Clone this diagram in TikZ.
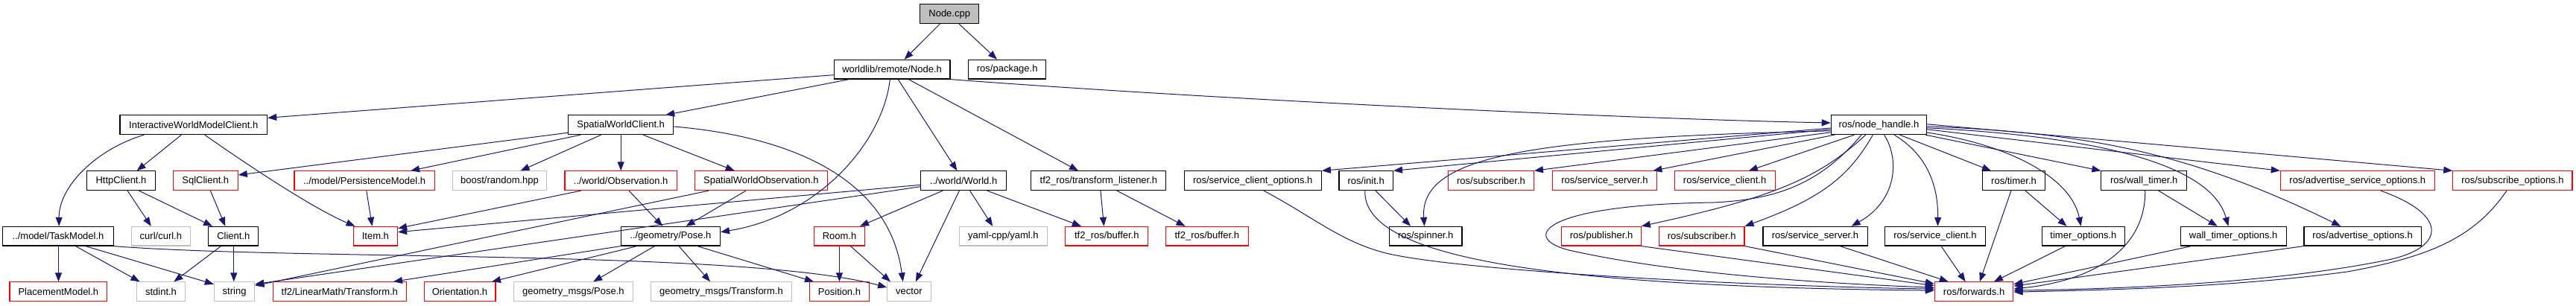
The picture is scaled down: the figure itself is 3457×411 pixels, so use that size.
\documentclass[tikz,border=0pt]{standalone}
\usepackage{fontspec}
\setmainfont{Liberation Sans}
\usetikzlibrary{arrows.meta,calc}
\definecolor{edgecol}{HTML}{191970}
\definecolor{redb}{HTML}{FF0000}
\definecolor{grayb}{HTML}{BFBFBF}
\begin{document}
\begin{tikzpicture}[x=1pt,y=-1pt,
  box/.style={rectangle, minimum height=25.7pt, inner sep=0pt, line width=1.1pt, font=\fontsize{13}{15}\selectfont},
  kbox/.style={box, draw=black},
  rbox/.style={box, draw=redb},
  gbox/.style={box, draw=grayb},
  rootbox/.style={box, draw=black, fill=grayb},
  ed/.style={draw=edgecol, line width=1pt, -{Triangle[length=12pt,width=9pt]}}]
\useasboundingbox (0,0) rectangle (3457,411);
% row 0
\node[rootbox, minimum width=79.2pt] (nodecpp) at (1274.2,18.7) {Node.cpp};
% row 1
\node[kbox, minimum width=155.8pt] (nodeh) at (1197.1,93.2) {worldlib/remote/Node.h};
\node[kbox, minimum width=104.3pt] (pkg) at (1351.7,93.2) {ros/package.h};
% row 2
\node[kbox, minimum width=197.7pt] (iwmc) at (259.8,167.8) {InteractiveWorldModelClient.h};
\node[kbox, minimum width=141.3pt] (swc) at (833.2,167.8) {SpatialWorldClient.h};
\node[kbox, minimum width=128.3pt] (nh) at (2521.4,167.8) {ros/node\_handle.h};
% row 3
\node[kbox, minimum width=92.3pt] (http) at (162.5,242.7) {HttpClient.h};
\node[rbox, minimum width=86.9pt] (sql) at (275.8,242.7) {SqlClient.h};
\node[rbox, minimum width=188.2pt] (pers) at (489.1,242.7) {../model/PersistenceModel.h};
\node[gbox, minimum width=126.6pt] (boost) at (670.5,242.7) {boost/random.hpp};
\node[rbox, minimum width=150.4pt] (obs) at (833.2,242.7) {../world/Observation.h};
\node[rbox, minimum width=177.5pt] (swo) at (1021.3,242.7) {SpatialWorldObservation.h};
\node[kbox, minimum width=114.8pt] (world) at (1293.2,242.7) {../world/World.h};
\node[kbox, minimum width=181pt] (tfl) at (1474.4,242.7) {tf2\_ros/transform\_listener.h};
\node[kbox, minimum width=184.3pt] (sco) at (1681.2,242.7) {ros/service\_client\_options.h};
\node[kbox, minimum width=72.5pt] (init) at (1833.2,242.7) {ros/init.h};
\node[rbox, minimum width=114.8pt] (sub3) at (2001,242.7) {ros/subscriber.h};
\node[rbox, minimum width=140.1pt] (ss3) at (2153.4,242.7) {ros/service\_server.h};
\node[rbox, minimum width=134.9pt] (sc3) at (2314.6,242.7) {ros/service\_client.h};
\node[kbox, minimum width=83.8pt] (timer) at (2702.5,242.7) {ros/timer.h};
\node[kbox, minimum width=114.7pt] (wt) at (2877.2,242.7) {ros/wall\_timer.h};
\node[rbox, minimum width=207pt] (aso) at (3163.8,242.7) {ros/advertise\_service\_options.h};
\node[rbox, minimum width=160.2pt] (so) at (3371.9,242.7) {ros/subscribe\_options.h};
% row 4
\node[kbox, minimum width=148.5pt] (task) at (78,317.2) {../model/TaskModel.h};
\node[gbox, minimum width=78.9pt] (curl) at (215.9,317.2) {curl/curl.h};
\node[kbox, minimum width=66.9pt] (client) at (313.3,317.2) {Client.h};
\node[rbox, minimum width=59.3pt] (item) at (503.9,317.2) {Item.h};
\node[kbox, minimum width=133.2pt] (pose) at (899.9,317.2) {../geometry/Pose.h};
\node[rbox, minimum width=68.2pt] (room) at (1126.5,317.2) {Room.h};
\node[gbox, minimum width=118.7pt] (yaml) at (1346.4,317.2) {yaml-cpp/yaml.h};
\node[rbox, minimum width=111pt] (buf1) at (1485.3,317.2) {tf2\_ros/buffer.h};
\node[rbox, minimum width=110.6pt] (buf2) at (1619.8,317.2) {tf2\_ros/buffer.h};
\node[kbox, minimum width=97.6pt] (spin) at (1913.2,317.2) {ros/spinner.h};
\node[rbox, minimum width=106.4pt] (pub) at (2149.1,317.2) {ros/publisher.h};
\node[rbox, minimum width=114.6pt] (sub4) at (2283.7,317.2) {ros/subscriber.h};
\node[kbox, minimum width=140.1pt] (ss4) at (2436,317.2) {ros/service\_server.h};
\node[kbox, minimum width=134.7pt] (sc4) at (2597,317.2) {ros/service\_client.h};
\node[kbox, minimum width=110.6pt] (topt) at (2795.9,317.2) {timer\_options.h};
\node[kbox, minimum width=141.7pt] (wto) at (2997.2,317.2) {wall\_timer\_options.h};
\node[kbox, minimum width=157.3pt] (ao) at (3170.6,317.2) {ros/advertise\_options.h};
% row 5
\node[rbox, minimum width=130.9pt] (place) at (78.4,391.7) {PlacementModel.h};
\node[gbox, minimum width=65.5pt] (stdint) at (216,391.7) {stdint.h};
\node[gbox, minimum width=54.4pt] (string) at (314.6,391.7) {string};
\node[rbox, minimum width=179.2pt] (lmt) at (455.8,391.7) {tf2/LinearMath/Transform.h};
\node[rbox, minimum width=95.9pt] (orient) at (617,391.7) {Orientation.h};
\node[gbox, minimum width=159.9pt] (gmp) at (769.4,391.7) {geometry\_msgs/Pose.h};
\node[gbox, minimum width=189.4pt] (gmt) at (967.9,391.7) {geometry\_msgs/Transform.h};
\node[rbox, minimum width=80.4pt] (pos) at (1126.5,391.7) {Position.h};
\node[gbox, minimum width=58.6pt] (vector) at (1219.9,391.7) {vector};
\node[rbox, minimum width=105.6pt] (fwd) at (2649.1,391.7) {ros/forwards.h};

% ---- edges ----
\draw[ed] ($(nodecpp.south)+(-12.8,0)$) -- ($(nodeh.north)+(16.5,0)$);
\draw[ed] ($(nodecpp.south)+(12.8,0)$) -- ($(pkg.north)+(-13.7,0)$);
\draw[ed] ($(nodeh.west)+(0,7.5)$) -- ($(iwmc.east)+(0,-9.5)$);
\draw[ed] ($(nodeh.south)+(-57.6,0)$) -- ($(swc.north)+(60,0)$);
\draw[ed] ($(nodeh.south)+(-2.7,0)$) .. controls (1185,190) and (1100,290) .. ($(pose.east)+(0,-5.5)$);
\draw[ed] ($(nodeh.south)+(8.1,0)$) -- ($(world.north)+(-8.8,0)$);
\draw[ed] ($(nodeh.south)+(22.2,0)$) -- ($(tfl.north)+(-27.4,0)$);
\draw[ed] (nodeh.south east) .. controls (1650,135) and (2200,160) .. ($(nh.west)+(0,-2.8)$);

\draw[ed] ($(iwmc.south)+(-66.5,0)$) .. controls (130,200) and (79,250) .. ($(task.north)+(1.2,0)$);
\draw[ed] ($(iwmc.south)+(-16.4,0)$) -- ($(http.north)+(21.2,0)$);
\draw[ed] ($(iwmc.south)+(15,0)$) .. controls (330,220) and (420,280) .. ($(item.north)+(-27.4,0)$);

\draw[ed] ($(swc.west)+(0,10.5)$) -- ($(sql.east)+(0,-7.7)$);
\draw[ed] ($(swc.south)+(-54.2,0)$) -- ($(pers.north)+(62,0)$);
\draw[ed] ($(swc.south)+(-26.6,0)$) -- ($(boost.north)+(28.1,0)$);
\draw[ed] (swc.south) -- (obs.north);
\draw[ed] ($(swc.south)+(30,0)$) -- ($(swo.north)+(-35.6,0)$);
\draw[ed] ($(swc.east)+(0,2.2)$) .. controls (1080,185) and (1195,250) .. ($(vector.north)+(-8.2,0)$);

\draw[ed] ($(sql.south)+(6.6,0)$) -- ($(client.north)+(-11,0)$);
\draw[ed] ($(http.south)+(8.5,0)$) -- ($(curl.north)+(-13.1,0)$);
\draw[ed] ($(http.south)+(23.9,0)$) -- ($(client.north)+(-28.2,0)$);
\draw[ed] ($(pers.south)+(2.7,0)$) -- ($(item.north)+(-4.5,0)$);
\draw[ed] ($(obs.south)+(-53.4,0)$) -- ($(item.east)+(0,-10.5)$);
\draw[ed] ($(world.west)+(0,5.6)$) -- ($(item.east)+(0,-5.5)$);
\draw[ed] ($(world.west)+(0,8)$) -- ($(string.east)+(0,-10)$);
\draw[ed] ($(swo.south)+(-70.1,0)$) -- ($(string.east)+(0,-8)$);
\draw[ed] ($(obs.south)+(10.8,0)$) -- ($(pose.north)+(-10.7,0)$);
\draw[ed] ($(swo.south)+(-20.3,0)$) -- ($(pose.north)+(20.7,0)$);

\draw[ed] (pose.south west) -- ($(lmt.north)+(72.2,0)$);
\draw[ed] ($(pose.south)+(-45.1,0)$) -- ($(orient.north)+(43,0)$);
\draw[ed] ($(pose.south)+(-21.4,0)$) -- ($(gmp.north)+(26.8,0)$);
\draw[ed] ($(pose.south)+(11.1,0)$) -- ($(gmt.north)+(-14.8,0)$);
\draw[ed] ($(pose.south)+(36,0)$) -- ($(pos.north)+(-34.5,0)$);
\draw[ed] (room.south) -- (pos.north);
\draw[ed] ($(room.south)+(14.9,0)$) -- ($(vector.north)+(-24.9,0)$);
\draw[ed] ($(world.south)+(-28,0)$) -- ($(room.north)+(27.5,0)$);
\draw[ed] ($(world.south)+(8.4,0)$) -- ($(yaml.north)+(-14.2,0)$);
\draw[ed] ($(world.south)+(31.4,0)$) -- ($(buf1.north)+(-34.4,0)$);
\draw[ed] ($(world.south)+(-5.8,0)$) -- ($(vector.north)+(9,0)$);
\draw[ed] ($(tfl.south)+(2.5,0)$) -- ($(buf1.north)+(-3.8,0)$);
\draw[ed] ($(tfl.south)+(24.3,0)$) -- ($(buf2.north)+(-29.3,0)$);

\draw[ed] ($(task.south)+(0.5,0)$) -- ($(place.north)+(0.1,0)$);
\draw[ed] ($(task.south)+(23.4,0)$) -- ($(stdint.north)+(-28.5,0)$);
\draw[ed] ($(task.south)+(36.8,0)$) -- ($(string.west)+(0,-10)$);
\draw[ed] (task.south east) .. controls (400,350) and (1000,335) .. ($(vector.west)+(0,-5.7)$);
\draw[ed] ($(client.south)+(-16.7,0)$) -- ($(stdint.north)+(17.4,0)$);
\draw[ed] ($(client.south)+(0.5,0)$) -- ($(string.north)+(-0.8,0)$);

% ros side
\draw[ed] ($(init.south)+(12.8,0)$) -- ($(spin.north)+(-20.1,0)$);
\draw[ed] ($(init.south)+(-1.4,0)$) .. controls (1828,350) and (2100,385) .. ($(fwd.west)+(0,-1.5)$);
\draw[ed] ($(sco.south)+(14.6,0)$) .. controls (1760,290) and (1800,325) .. (1860,340) .. controls (1950,362) and (2300,383) .. ($(fwd.west)+(0,-3.5)$);
\draw[ed] ($(nh.west)+(0,4.2)$) -- (sco.north east);
\draw[ed] ($(nh.west)+(0,6)$) -- (init.north east);
\draw[ed] ($(nh.west)+(0,8)$) .. controls (2050,185) and (1905,210) .. ($(spin.north)+(-1.7,0)$);
\draw[ed] ($(nh.west)+(0,10)$) -- (sub3.north east);
\draw[ed] ($(nh.south west)+(5,0)$) -- ($(ss3.north)+(65,0)$);
\draw[ed] ($(nh.south)+(-33,0)$) -- ($(sc3.north)+(32.2,0)$);
\draw[ed] ($(nh.south)+(-17.7,0)$) .. controls (2440,240) and (2380,265) .. (pub.north east);
\draw[ed] ($(nh.south)+(-8.1,0)$) .. controls (2480,240) and (2440,268) .. (sub4.north east);
\draw[ed] ($(nh.south)+(7.2,0)$) .. controls (2550,215) and (2545,270) .. ($(ss4.north)+(48.6,0)$);
\draw[ed] ($(nh.south)+(20.6,0)$) .. controls (2590,210) and (2601,255) .. ($(sc4.north)+(3.5,0)$);
\draw[ed] ($(nh.south)+(28.2,0)$) -- ($(timer.north)+(-30.5,0)$);
\draw[ed] ($(nh.east)+(0,10.2)$) .. controls (2700,195) and (2780,240) .. ($(topt.north)+(-3.3,0)$);
\draw[ed] ($(nh.south)+(62.6,0)$) -- (wt.north west);
\draw[ed] ($(nh.east)+(0,4)$) .. controls (2850,185) and (2970,230) .. ($(wto.north)+(-6.8,0)$);
\draw[ed] ($(nh.east)+(0,2)$) .. controls (2800,178) and (2940,205) .. ($(ao.north)+(-29.3,0)$);
\draw[ed] ($(nh.east)+(0,6)$) -- (aso.north west);
\draw[ed] ($(nh.east)+(0,-1)$) -- (so.north west);
\draw[ed] ($(nh.south)+(-23.4,0)$) .. controls (2440,250) and (2380,268) .. (2300,272) .. controls (2060,275) and (2040,322) .. (2110,337) .. controls (2250,368) and (2450,381) .. ($(fwd.west)+(0,-5.5)$);
\draw[ed] (pub.south east) -- ($(fwd.west)+(0,-8)$);
\draw[ed] (sub4.south east) -- ($(fwd.west)+(0,-10.5)$);
\draw[ed] ($(ss4.south)+(33.3,0)$) -- ($(fwd.north)+(-34.4,0)$);
\draw[ed] ($(sc4.south)+(8,0)$) -- ($(fwd.north)+(-11.5,0)$);
\draw[ed] ($(timer.south)+(-3.6,0)$) -- ($(fwd.north)+(7.7,0)$);
\draw[ed] ($(timer.south)+(15.5,0)$) -- ($(topt.north)+(-22.4,0)$);
\draw[ed] ($(topt.south)+(-24.3,0)$) -- ($(fwd.north)+(26.8,0)$);
\draw[ed] ($(wt.south)+(1.5,0)$) .. controls (2880,320) and (2830,375) .. ($(fwd.east)+(0,-3.7)$);
\draw[ed] ($(wt.south)+(19.4,0)$) -- ($(wto.north)+(-21.5,0)$);
\draw[ed] ($(wto.south)+(-56.5,0)$) -- ($(fwd.east)+(0,-10)$);
\draw[ed] (ao.south west) -- ($(fwd.east)+(0,-7.5)$);
\draw[ed] ($(aso.south)+(30.9,0)$) .. controls (3290,290) and (3280,335) .. (3200,350) .. controls (3050,380) and (2850,388) .. ($(fwd.east)+(0,-1.5)$);
\draw[ed] ($(so.south)+(-7.9,0)$) .. controls (3320,320) and (3260,345) .. (3150,365) .. controls (3000,385) and (2850,389) .. ($(fwd.east)+(0,0.5)$);
\end{tikzpicture}
\end{document}
